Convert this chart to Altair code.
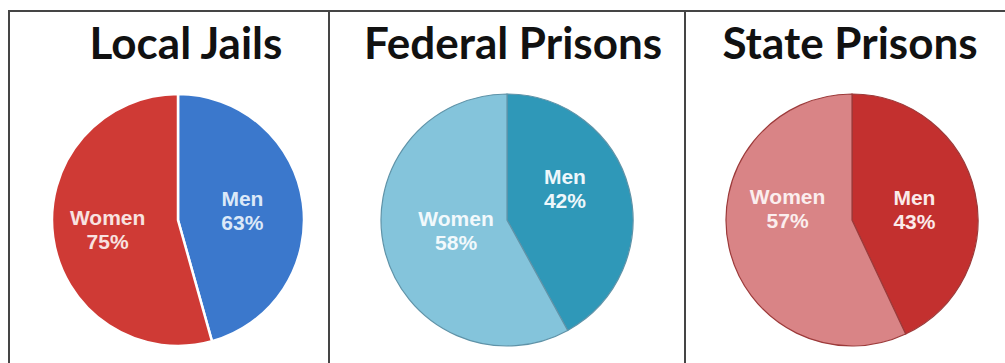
import altair as alt
import pandas as pd

# ---- data ----
panels = ["Local Jails", "Federal Prisons", "State Prisons"]
groups = ["Men", "Women"]
men_pct = [63, 42, 43]
women_pct = [75, 58, 57]

# ---- styling ----
men_colors = ["#3b78cc", "#2f98b8", "#c3302f"]
women_colors = ["#cf3a35", "#84c4db", "#d98486"]
men_label_colors = ["#dce9f8", "#eef7fb", "#fbeaea"]
women_label_colors = ["#f8e2e0", "#f2f9fc", "#fbeeee"]
slice_strokes = ["white", "#5f93a8", "#9c3a3a"]
slice_stroke_widths = [2.5, 1.2, 1.2]

pie_cx = [178, 507, 852]
pie_cy = 220
pie_r = 126
title_cx = [186, 513, 850]
title_y = 46
# label nudges (dx, dy) per panel for Men / Women
men_label_nudge = [(-1, -11), (-6, -26), (-2, -7)]
women_label_nudge = [(-5, -10), (13, -16), (0, -36)]

rows = []
for i, p in enumerate(panels):
    for j, (g, v) in enumerate(zip(groups, [men_pct[i], women_pct[i]])):
        rows.append({
            "panel": p,
            "group": g,
            "pct": v,
            "order": j,
            "key": f"{p}|{g}",
            "label": f"{g}\n{v}%",
            "lcolor": (men_label_colors if g == "Men" else women_label_colors)[i],
        })
df = pd.DataFrame(rows)

color_domain = [f"{p}|{g}" for p in panels for g in groups]
color_range = []
for i in range(len(panels)):
    color_range += [men_colors[i], women_colors[i]]

color_scale = alt.Scale(domain=color_domain, range=color_range)
theta = alt.Theta("pct:Q", stack="normalize")

layers = []
for i, p in enumerate(panels):
    base = alt.Chart(df).transform_filter(alt.datum.panel == p)
    arc = base.mark_arc(
        radius=pie_r, stroke=slice_strokes[i], strokeWidth=slice_stroke_widths[i]
    ).encode(
        x=alt.value(pie_cx[i]),
        y=alt.value(pie_cy),
        theta=theta,
        color=alt.Color("key:N", scale=color_scale, legend=None),
        order=alt.Order("order:Q"),
    )
    layers.append(arc)
    for g, nudge in (("Men", men_label_nudge[i]), ("Women", women_label_nudge[i])):
        txt = base.mark_text(
            radius=66, font="Liberation Sans", fontWeight="bold", fontSize=21,
            lineBreak="\n", lineHeight=24, align="center", baseline="middle",
            dx=nudge[0], dy=nudge[1],
        ).encode(
            x=alt.value(pie_cx[i]),
            y=alt.value(pie_cy),
            theta=theta,
            text="label:N",
            fill=alt.Fill("lcolor:N", scale=None),
            order=alt.Order("order:Q"),
            opacity=alt.condition(alt.datum.group == g, alt.value(1), alt.value(0)),
        )
        layers.append(txt)
    title = alt.Chart(pd.DataFrame({"panel": panels})).transform_filter(
        alt.datum.panel == p
    ).mark_text(
        font="Lato", fontWeight="bold", fontSize=44, color="#111111",
        align="center", baseline="middle",
    ).encode(x=alt.value(title_cx[i]), y=alt.value(title_y), text="panel:N")
    layers.append(title)

one = pd.DataFrame({"k": [0]})
border_color = "#454545"
top = alt.Chart(one).mark_rule(color=border_color, strokeWidth=2).encode(
    x=alt.value(8), x2=alt.value(1005), y=alt.value(11))
left = alt.Chart(one).mark_rule(color=border_color, strokeWidth=2).encode(
    x=alt.value(9), y=alt.value(11), y2=alt.value(363))
div1 = alt.Chart(one).mark_rule(color=border_color, strokeWidth=2).encode(
    x=alt.value(329), y=alt.value(11), y2=alt.value(363))
div2 = alt.Chart(one).mark_rule(color=border_color, strokeWidth=2).encode(
    x=alt.value(685), y=alt.value(11), y2=alt.value(363))

chart = alt.layer(*layers, top, left, div1, div2).properties(
    width=1005, height=363, padding=0,
    autosize=alt.AutoSizeParams(type="none"),
    background="white",
).configure_view(stroke=None)

chart.save("out.html", embed_options={"renderer": "svg", "actions": False})
